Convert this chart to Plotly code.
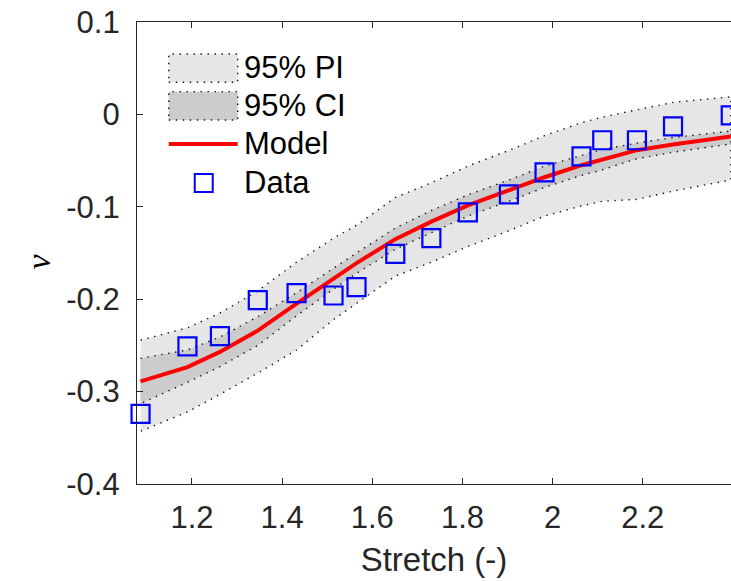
import plotly.graph_objects as go

# ---- data ----
stretch = [1.086, 1.19, 1.262, 1.346, 1.432, 1.514, 1.565, 1.651, 1.731, 1.812,
           1.903, 1.982, 2.064, 2.110, 2.187, 2.267, 2.395]
data_nu = [-0.324, -0.251, -0.240, -0.201, -0.1935, -0.196, -0.187, -0.151, -0.134,
           -0.106, -0.0865, -0.0627, -0.0454, -0.028, -0.028, -0.013, -0.001]
model_nu = [-0.289, -0.2735, -0.257, -0.234, -0.2047, -0.177, -0.161, -0.135, -0.116,
            -0.0985, -0.0818, -0.068, -0.055, -0.049, -0.0387, -0.0325, -0.024]
ci_upper = [-0.264, -0.255, -0.241, -0.219, -0.193, -0.166, -0.150, -0.123, -0.104,
            -0.087, -0.071, -0.056, -0.044, -0.038, -0.031, -0.025, -0.018]
ci_lower = [-0.313, -0.290, -0.273, -0.250, -0.218, -0.189, -0.172, -0.146, -0.128,
            -0.110, -0.094, -0.079, -0.066, -0.060, -0.048, -0.041, -0.032]
pi_upper = [-0.2443, -0.231, -0.215, -0.191, -0.160, -0.134, -0.120, -0.090, -0.074,
            -0.056, -0.039, -0.023, -0.009, -0.003, 0.005, 0.013, 0.019]
pi_lower = [-0.343, -0.322, -0.303, -0.280, -0.255, -0.222, -0.204, -0.175, -0.160,
            -0.143, -0.126, -0.110, -0.099, -0.094, -0.092, -0.083, -0.071]

x_tickvals = [1.2, 1.4, 1.6, 1.8, 2.0, 2.2]
x_ticktext = ["1.2", "1.4", "1.6", "1.8", "2", "2.2"]
y_tickvals = [0.1, 0.0, -0.1, -0.2, -0.3, -0.4]
y_ticktext = ["0.1", "0", "-0.1", "-0.2", "-0.3", "-0.4"]
legend_labels = ["95% PI", "95% CI", "Model", "Data"]

# ---- styles ----
W, H = 731, 581
L, T, B = 136.5, 22, 484.3
FONT = "Liberation Sans, Arial, Helvetica, sans-serif"
AXC = "#262626"
PI_FILL = "#e6e6e6"
CI_FILL = "#cccccc"
DOT = dict(color="#111111", width=1.4, dash="1.4px,5.6px")

fig = go.Figure()

fig.add_trace(go.Scatter(
    x=stretch + stretch[::-1], y=pi_upper + pi_lower[::-1],
    fill="toself", fillcolor=PI_FILL, line=DOT, mode="lines",
    name=legend_labels[0], showlegend=False, hoverinfo="skip"))
fig.add_trace(go.Scatter(
    x=stretch + stretch[::-1], y=ci_upper + ci_lower[::-1],
    fill="toself", fillcolor=CI_FILL, line=DOT, mode="lines",
    name=legend_labels[1], showlegend=False, hoverinfo="skip"))
fig.add_trace(go.Scatter(
    x=stretch, y=model_nu, mode="lines",
    line=dict(color="#ff0000", width=4), name=legend_labels[2], showlegend=False))
fig.add_trace(go.Scatter(
    x=stretch, y=data_nu, mode="markers",
    marker=dict(symbol="square-open", size=18, color="#0000ff",
                line=dict(width=2.2, color="#0000ff")),
    name=legend_labels[3], showlegend=False, cliponaxis=False))

PW = W - L
PH = B - T


def px(xp):
    return (xp - L) / PW


def py(yp):
    return (B - yp) / PH


# manual legend (MATLAB style)
shapes = [
    dict(type="rect", xref="paper", yref="paper", x0=px(168.3), x1=px(237.3),
         y0=py(82.3), y1=py(54), fillcolor=PI_FILL, line=DOT, layer="above"),
    dict(type="rect", xref="paper", yref="paper", x0=px(168.3), x1=px(237.3),
         y0=py(120), y1=py(91.7), fillcolor=CI_FILL, line=DOT, layer="above"),
    dict(type="line", xref="paper", yref="paper", x0=px(168.3), x1=px(237.3),
         y0=py(144), y1=py(144), line=dict(color="#ff0000", width=4), layer="above"),
    dict(type="rect", xref="paper", yref="paper", x0=px(194.3), x1=px(212.3),
         y0=py(192), y1=py(174), line=dict(color="#0000ff", width=2), layer="above"),
]
legend_y = [68, 106, 144, 183]
annotations = []
for lab, yy in zip(legend_labels, legend_y):
    annotations.append(dict(
        xref="paper", yref="paper", x=px(242), y=py(yy), text=lab,
        showarrow=False, xanchor="left", yanchor="middle",
        font=dict(family=FONT, size=31, color="#000000")))
annotations.append(dict(
    xref="paper", yref="paper", x=px(38), y=py(262), text="<i>ν</i>",
    textangle=-90, showarrow=False, xanchor="center", yanchor="middle",
    font=dict(family="Liberation Serif, Times New Roman, serif", size=34, color="#000000")))

fig.update_layout(
    width=W, height=H,
    margin=dict(l=L, r=0, t=T, b=H - B, pad=0),
    paper_bgcolor="white", plot_bgcolor="white",
    shapes=shapes, annotations=annotations,
    showlegend=False,
    xaxis=dict(
        range=[1.0781, 2.3956], showgrid=False, zeroline=False,
        showline=True, linecolor=AXC, linewidth=1.3, mirror="ticks",
        ticks="inside", ticklen=6, tickcolor=AXC, tickwidth=1.2,
        tickvals=x_tickvals, ticktext=x_ticktext,
        tickfont=dict(family=FONT, size=31, color=AXC), ticklabelstandoff=6,
        title=dict(text="Stretch (-)", font=dict(family=FONT, size=33, color=AXC), standoff=13),
    ),
    yaxis=dict(
        range=[-0.4, 0.1], showgrid=False, zeroline=False,
        showline=True, linecolor=AXC, linewidth=1.3, mirror=False,
        ticks="inside", ticklen=6, tickcolor=AXC, tickwidth=1.2,
        tickvals=y_tickvals, ticktext=y_ticktext,
        tickfont=dict(family=FONT, size=31, color=AXC), ticklabelstandoff=10,
    ),
)

fig.write_html("out.html")
